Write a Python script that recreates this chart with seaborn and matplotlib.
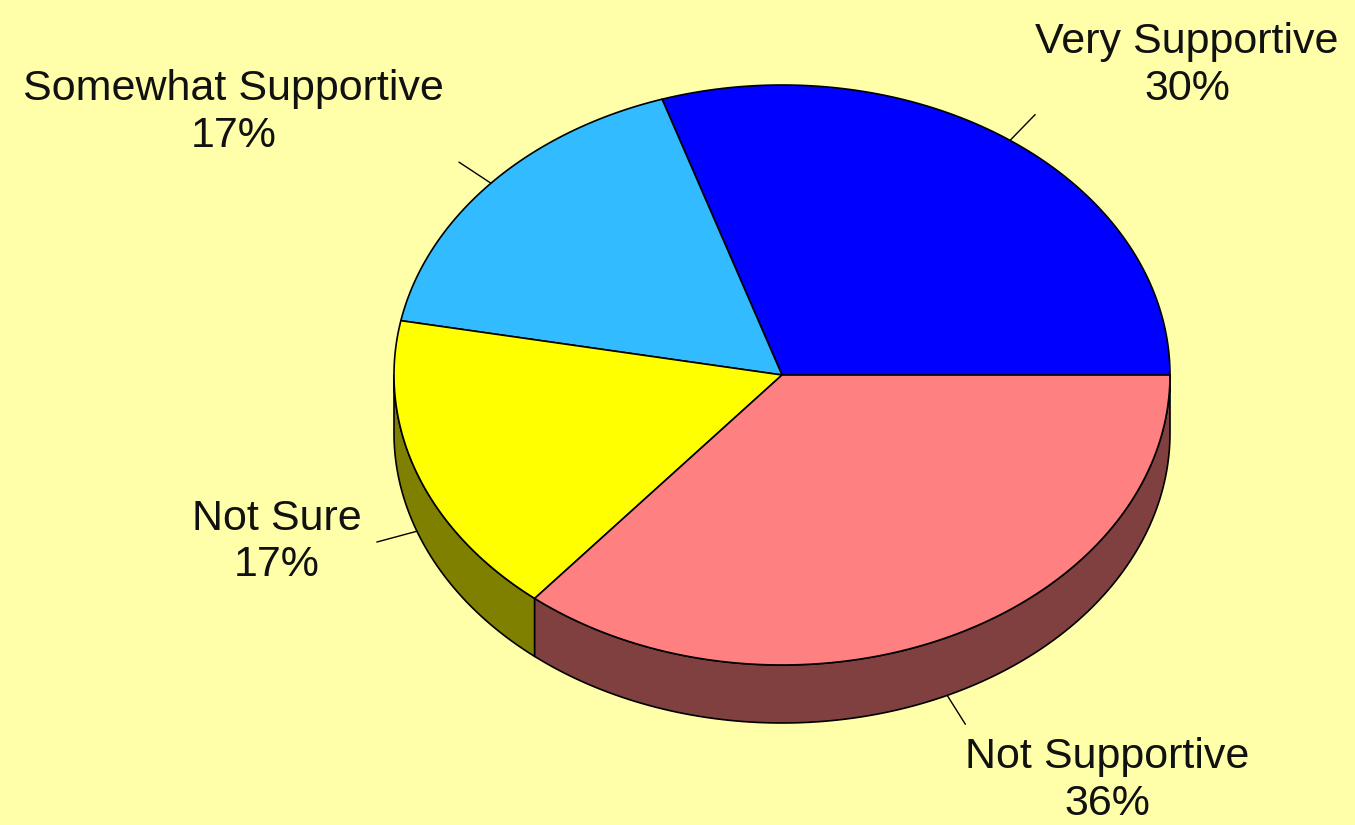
import numpy as np
import matplotlib
matplotlib.use("Agg")
import matplotlib.pyplot as plt
from matplotlib.patches import Polygon
import seaborn as sns

# Survey answers and their shares (percent)
categories = ["Very Supportive", "Somewhat Supportive", "Not Sure", "Not Supportive"]
shares = [30, 17, 17, 36]
slice_colors = ["#0000FF", "#33BBFF", "#FFFF00", "#FF8080"]

BG = "#FFFFAA"

sns.set_theme(style="white")
plt.rcParams["font.family"] = ["Liberation Sans", "DejaVu Sans"]

W, H, DPI = 1355, 825, 100
fig = plt.figure(figsize=(W / DPI, H / DPI), dpi=DPI, facecolor=BG)
ax = fig.add_axes([0, 0, 1, 1])
ax.set_facecolor(BG)
ax.set_xlim(0, W)
ax.set_ylim(H, 0)
ax.axis("off")

# Tilted pie geometry (pixel space, y grows downward)
cx, cy = 782, 375
rx, ry = 388, 290
depth = 58
edge_kw = dict(edgecolor="black", linewidth=1.2, joinstyle="round")


def rim(theta_deg, r=1.0, drop=0.0):
    t = np.radians(theta_deg)
    return cx + r * rx * np.cos(t), cy - r * ry * np.sin(t) + drop


def arc(a0, a1, drop=0.0, n=120):
    th = np.linspace(a0, a1, n)
    xs, ys = rim(th, drop=drop)
    return np.column_stack([xs, ys])


fractions = np.array(shares, dtype=float) / sum(shares)
bounds = np.concatenate([[0.0], np.cumsum(fractions) * 360.0])


def darker(c, f=0.5):
    rgb = np.array(matplotlib.colors.to_rgb(c))
    return tuple(rgb * f)


# Side walls: only the front half (180..360 deg) is visible
for i, col in enumerate(slice_colors):
    a0, a1 = bounds[i], bounds[i + 1]
    lo, hi = max(a0, 180.0), min(a1, 360.0)
    if hi <= lo:
        continue
    top = arc(lo, hi)
    bottom = arc(hi, lo, drop=depth)
    ax.add_patch(Polygon(np.vstack([top, bottom]), closed=True,
                         facecolor=darker(col), **edge_kw))

# Top faces
for i, col in enumerate(slice_colors):
    a0, a1 = bounds[i], bounds[i + 1]
    pts = np.vstack([[cx, cy], arc(a0, a1)])
    ax.add_patch(Polygon(pts, closed=True, facecolor=col, **edge_kw))

# Leader lines and labels
for i, name in enumerate(categories):
    mid = (bounds[i] + bounds[i + 1]) / 2.0
    s = np.sin(np.radians(mid))
    c = np.cos(np.radians(mid))
    drop = depth if s < 0 else 0.0
    x0, y0 = rim(mid, 1.0, drop)
    x1, y1 = rim(mid, 1.11, drop)
    ax.plot([x0, x1], [y0, y1], color="black", linewidth=1.0)

    if c >= 0:
        ha, tx = "left", x1 + 0
    else:
        ha, tx = "right", x1 - 15
    if abs(s) < 0.5:
        va, ty = "center", y1
    elif s > 0:
        va, ty = "bottom", y1 - 6
    else:
        va, ty = "top", y1 + 13
    ax.text(tx, ty, f"{name}\n{shares[i]}%", ha=ha, va=va,
            multialignment="center", fontsize=31, color="#111111",
            linespacing=1.22)

fig.savefig("out.png", dpi=DPI, facecolor=BG)
